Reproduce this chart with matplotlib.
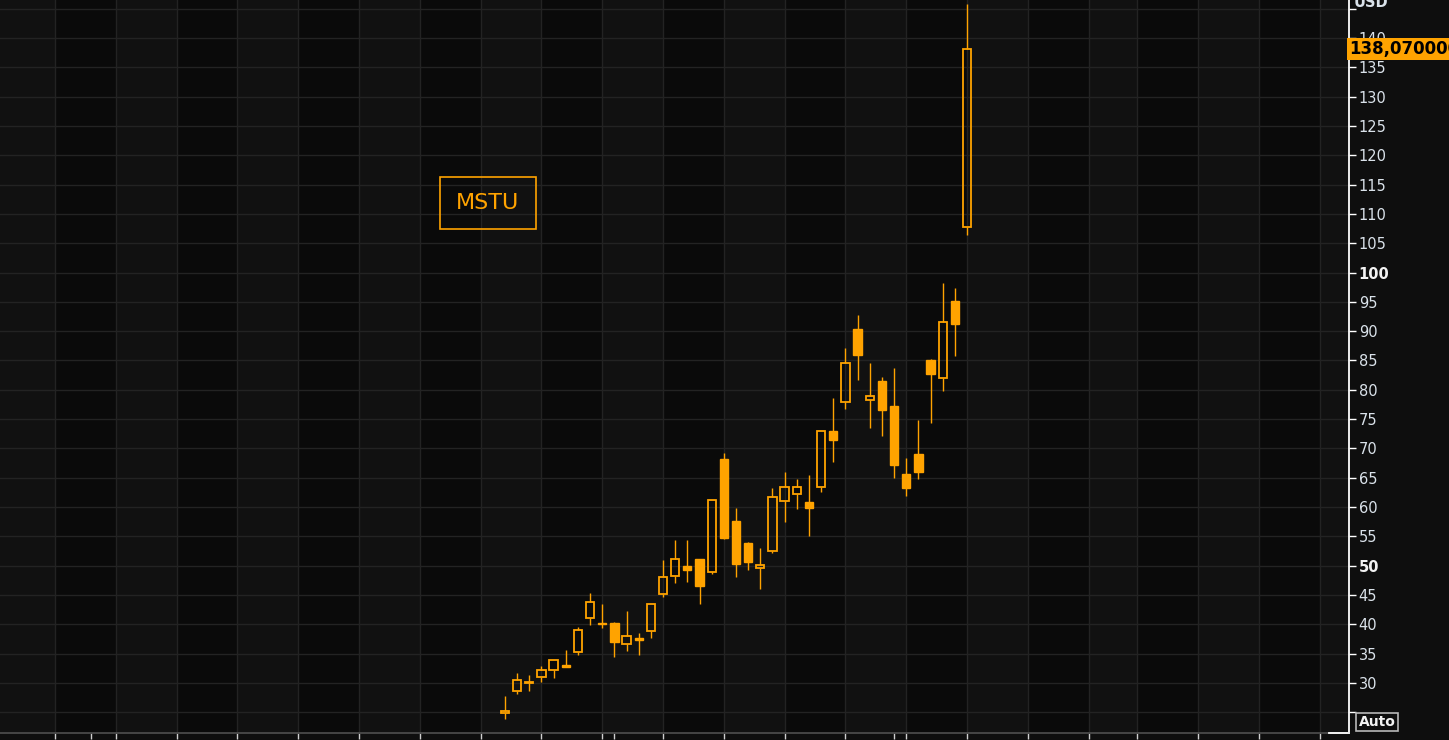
#MSTU daily candles (Bloomberg-style dark chart)

import pandas as pd
import matplotlib.pyplot as plt
import numpy as np
from matplotlib.lines import Line2D
import matplotlib.transforms as mtrans


first_day = '2024-09-18'
opens  = [24.8, 28.7, 29.95, 31.1, 32.2, 33.1, 35.2, 41.0, 40.3, 40.2,
          36.6, 37.5, 38.9, 45.1, 48.2, 49.9, 51.1, 48.9, 68.2, 57.6,
          53.9, 49.6, 52.5, 61.0, 62.2, 60.8, 63.5, 73.0, 77.9, 90.3,
          78.2, 81.5, 77.2, 65.6, 69.1, 85.1, 82.0, 95.1, 107.8]
highs  = [27.8, 31.7, 31.4, 32.9, 33.9, 35.6, 39.5, 45.3, 43.5, 40.4,
          42.3, 38.5, 43.4, 51.0, 54.4, 54.4, 51.1, 61.2, 69.3, 59.8,
          54.0, 53.0, 63.2, 66.0, 64.8, 65.5, 72.9, 78.6, 87.1, 92.8,
          84.6, 82.2, 83.7, 68.4, 74.8, 85.3, 98.2, 97.4, 145.8]
lows   = [23.9, 28.2, 28.7, 30.2, 30.9, 32.7, 34.8, 39.9, 39.3, 34.5,
          35.5, 34.7, 37.6, 44.6, 47.1, 47.3, 43.5, 48.5, 54.6, 48.1,
          49.3, 46.1, 52.2, 57.5, 59.6, 55.1, 62.6, 67.7, 76.8, 81.6,
          73.4, 72.2, 65.0, 61.9, 64.7, 74.4, 79.8, 85.8, 106.4]
closes = [25.3, 30.5, 30.05, 32.2, 33.9, 32.8, 39.0, 43.8, 40.0, 37.0,
          38.0, 37.3, 43.4, 48.1, 51.1, 49.3, 46.6, 61.2, 54.8, 50.3,
          50.7, 50.2, 61.7, 63.5, 63.4, 59.9, 72.9, 71.5, 84.5, 86.0,
          78.9, 76.6, 67.2, 63.3, 65.9, 82.7, 91.5, 91.3, 138.07]
last_price = '138,070000'
ticker = 'MSTU'

orange = '#ffa300'
light_bg = '#111111'
dark_bg = '#0a0a0a'
grid_c = '#232323'

# trading calendar of the x axis (future part skips the holidays)
days = pd.bdate_range('2024-07-22', '2024-12-31').drop(pd.to_datetime(['2024-11-28', '2024-12-25']))
x = days.get_indexer(pd.bdate_range(first_day, periods=len(opens)))
mondays = np.where(days.dayofweek == 0)[0]
month_first = np.where(days.month != np.roll(days.month, 1))[0]

df = pd.DataFrame({'x': x, 'o': opens, 'h': highs, 'l': lows, 'c': closes})
df['top'] = df[['o', 'c']].max(axis=1)
df['bot'] = df[['o', 'c']].min(axis=1)
up = df[df['c'] >= df['o']]
dn = df[df['c'] < df['o']]

fig = plt.figure(figsize=(14.49, 7.40), dpi=100, facecolor='#0e0e0e')
ax = fig.add_axes([0, 7/740, 1349/1449, 733/740])
ax.set_facecolor(dark_bg)

x0, x1 = 0.477, 111.41

# weekly bands + grid
for k, m in enumerate(mondays):
    nxt = mondays[k+1] if k+1 < len(mondays) else x1 + 5
    ax.axvspan(m, nxt, color=dark_bg if k % 2 else light_bg, lw=0, zorder=0)
for m in mondays:
    ax.axvline(m, color=grid_c, lw=1, zorder=1)
for v in range(25, 150, 5):
    ax.axhline(v, color=grid_c, lw=1, zorder=1)

w = 0.68
# wicks (hollow candles: above and below the body only)
ax.vlines(up['x'], up['top'], up['h'], color=orange, lw=1, zorder=3)
ax.vlines(up['x'], up['l'], up['bot'], color=orange, lw=1, zorder=3)
ax.vlines(dn['x'], dn['l'], dn['h'], color=orange, lw=1, zorder=3)
ax.bar(up['x'], (up['top'] - up['bot']).clip(lower=0.15), bottom=up['bot'], width=w,
       facecolor='none', edgecolor=orange, lw=1.3, zorder=4)
ax.bar(dn['x'], (dn['top'] - dn['bot']).clip(lower=0.3), bottom=dn['bot'], width=w,
       facecolor=orange, edgecolor=orange, lw=1, zorder=4)

# axes styling
for s in ['top', 'left']:
    ax.spines[s].set_visible(False)
ax.spines['right'].set_color('white')
ax.spines['right'].set_linewidth(1.3)
ax.spines['bottom'].set_color('#4a4a4a')
ax.spines['bottom'].set_linewidth(1.3)

ax.set_xticks(sorted(set(mondays) | set(month_first)))
ax.set_xticklabels([])
ax.tick_params(axis='x', colors='#d0d0d0', length=4, width=1, direction='out')

yt = list(range(25, 150, 5))
ax.yaxis.tick_right()
ax.set_yticks(yt)
ax.set_yticklabels(['' if v in (25, 145) else str(v) for v in yt])
ax.tick_params(axis='y', colors='white', labelcolor='#dae2ea', length=5, width=1,
               pad=2, labelsize=10.5)
for lab, v in zip(ax.get_yticklabels(), yt):
    if v in (50, 100):
        lab.set_fontweight('bold')
        lab.set_color('#f2f2f2')

# limits last: set_xticks would widen them
ax.set_xlim(x0, x1)
ax.set_ylim(21.47, 146.47)

# ticker box
ax.text(488/1349, (733-203)/733, ticker, transform=ax.transAxes, ha='center', va='center',
        color=orange, fontsize=16,
        bbox=dict(boxstyle='square,pad=0.72', fc='none', ec=orange, lw=1.2))

# last price tag on the axis
tr = mtrans.blended_transform_factory(ax.transAxes, ax.transData)
ax.text(1.0, closes[-1], last_price, transform=tr, ha='left', va='center', clip_on=False,
        color='black', fontsize=12, fontweight='bold', zorder=10,
        bbox=dict(boxstyle='square,pad=0.12', fc=orange, ec='none'))

fig.text(1354/1449, 1 - 7/740, 'USD', ha='left', va='baseline', color='#dae2ea',
         fontsize=10.5, fontweight='bold')
fig.text(1377/1449, 1 - 722/740, 'Auto', ha='center', va='center', color='#f2f2f2',
         fontsize=10, fontweight='bold',
         bbox=dict(boxstyle='square,pad=0.15', fc='none', ec='#b8b8b8', lw=1.2))
fig.add_artist(Line2D([1329/1449, 1349/1449], [7/740, 7/740], color='white', lw=1.3))

fig.savefig('out.png', dpi=100, facecolor=fig.get_facecolor())
